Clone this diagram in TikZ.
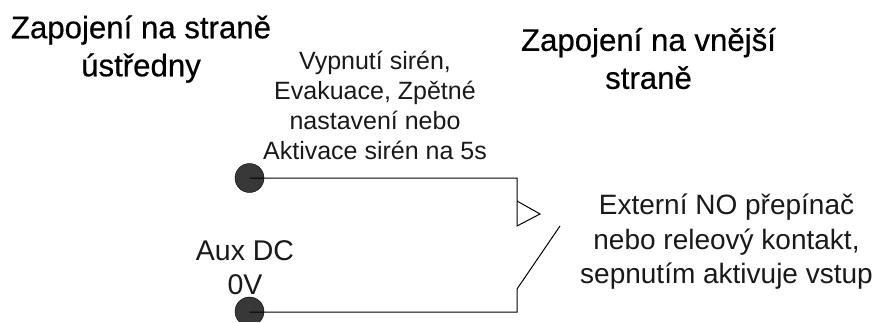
\documentclass[tikz,border=0pt]{standalone}
\usepackage{fontspec}
\setmainfont{Liberation Sans}
\newfontfamily\hfont[FakeBold=0.5]{Liberation Sans}
\tikzset{
  x=1pt,y=-1pt,
  heading/.style={align=center,inner sep=0pt,font=\hfont\fontsize{31.2}{38}\selectfont,text=black},
  label/.style={align=center,inner sep=0pt,font=\fontsize{28}{34.5}\selectfont,text=black!90},
  small/.style={align=center,inner sep=0pt,font=\fontsize{25}{30}\selectfont,text=black!90},
  auxlabel/.style={align=center,inner sep=0pt,font=\fontsize{28.5}{34}\selectfont,text=black!90},
  wire/.style={draw=black,line width=1pt},
  terminal/.style={circle,draw=black,fill=black!78,minimum size=29pt,inner sep=0pt,line width=0.4pt}
}
\begin{document}
\begin{tikzpicture}
\useasboundingbox (0,0) rectangle (877,322);
\begin{scope}
\clip (0,0) rectangle (877,321);
\node[terminal] (t1) at (249.5,178) {};
\node[terminal] (t2) at (249.5,311.5) {};
\end{scope}
\coordinate (c1) at (249.5,178);
\coordinate (c2) at (249.5,312);
\coordinate (a1) at (517,178);
\coordinate (a2) at (517,226);
\coordinate (tip) at (540,214);
\coordinate (a3) at (517,201);
\coordinate (b1) at (517,312);
\coordinate (b2) at (517,289);
\coordinate (b3) at (560,226);
\draw[wire] (c1) -- (a1) -- (a2) -- (tip) -- (a3);
\draw[wire] (c2) -- (b1) -- (b2) -- (b3);
\node[heading] (h1) at (141,49) {Zapojení na straně\\úst\v{r}edny};
\node[heading] (h2) at (648.5,58.5) {Zapojení na vnější\\straně};
\node[small] (n1) at (375,105) {Vypnutí sirén,\\Evakuace, Zpětné\\nastavení nebo\\Aktivace sirén na 5s};
\node[label] (n2) at (726.5,242) {Externí NO přepínač\\nebo releový kontakt,\\sepnutím aktivuje vstup};
\node[auxlabel] (n3) at (245,268) {Aux DC\\0V};
\end{tikzpicture}
\end{document}
